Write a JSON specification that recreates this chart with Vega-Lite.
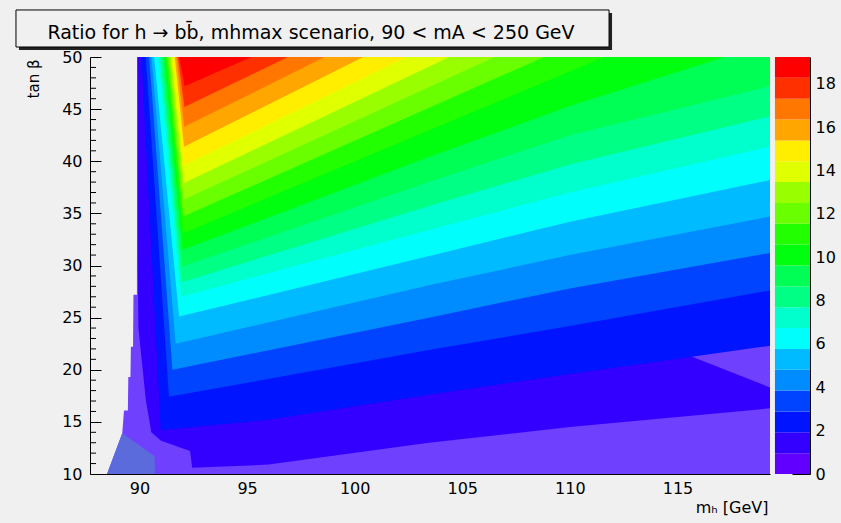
{
  "$schema": "https://vega.github.io/schema/vega-lite/v6.json",
  "width": 680,
  "height": 417,
  "autosize": {"type": "none"},
  "padding": {"left": 90, "top": 57, "right": 71, "bottom": 49},
  "background": "#f0f0f0",
  "config": {
    "view": {"stroke": null},
    "font": "DejaVu Sans",
    "axis": {"labelFont": "DejaVu Sans", "titleFont": "DejaVu Sans", "grid": false, "labelColor": "black", "titleColor": "black", "domainColor": "black", "tickColor": "black", "labelFontSize": 16, "titleFontWeight": "normal", "labelFlush": false, "labelOverlap": false, "zindex": 1}
  },
  "datasets": {
    "region0": [{"x":88.5,"hi":10.05},{"x":89.2,"hi":13.9},{"x":89.28,"hi":16.1},{"x":89.46,"hi":16.1},{"x":89.48,"hi":19.3},{"x":89.58,"hi":19.3},{"x":89.6,"hi":22.2},{"x":89.7,"hi":22.2},{"x":89.72,"hi":27.2},{"x":89.88,"hi":27.2},{"x":89.9,"hi":50},{"x":119.3,"hi":50}],
    "slate": [{"x":88.5,"hi":10.05},{"x":89.2,"hi":13.9},{"x":90.7,"hi":11.7},{"x":90.72,"hi":10.0}],
    "b1": [{"k":1,"x":89.9,"lo":50},{"k":1,"x":89.92,"lo":30},{"k":1,"x":89.95,"lo":24},{"k":1,"x":90.3,"lo":17},{"k":1,"x":90.55,"lo":14.0},{"k":1,"x":91.0,"lo":13.2},{"k":1,"x":92.35,"lo":12.2},{"k":1,"x":92.45,"lo":10.6},{"k":1,"x":96,"lo":10.9},{"k":1,"x":103.45,"lo":13.0},{"k":1,"x":110,"lo":14.5},{"k":1,"x":119.3,"lo":16.3}],
    "notch": [{"x":115.5,"lo":21.4},{"x":119.3,"lo":18.3}],
    "bands": [
      {"k":2,"x":90.09,"lo":50},{"k":2,"x":90.99,"lo":14.2},{"k":2,"x":96,"lo":15.2},{"k":2,"x":103.45,"lo":17.6},{"k":2,"x":110,"lo":19.6},{"k":2,"x":119.3,"lo":22.3},
      {"k":3,"x":90.29,"lo":50},{"k":3,"x":91.37,"lo":17.4},{"k":3,"x":103.45,"lo":21.9},{"k":3,"x":110,"lo":24.2},{"k":3,"x":119.3,"lo":27.6},
      {"k":4,"x":90.45,"lo":50},{"k":4,"x":91.53,"lo":20.0},{"k":4,"x":103.45,"lo":25.0},{"k":4,"x":110,"lo":27.8},{"k":4,"x":119.3,"lo":31.2},
      {"k":5,"x":90.56,"lo":50},{"k":5,"x":91.68,"lo":22.5},{"k":5,"x":103.45,"lo":28.1},{"k":5,"x":110,"lo":31.0},{"k":5,"x":119.3,"lo":34.7},
      {"k":6,"x":90.68,"lo":50},{"k":6,"x":91.84,"lo":25.1},{"k":6,"x":103.45,"lo":30.9},{"k":6,"x":110,"lo":34.2},{"k":6,"x":119.3,"lo":38.2},
      {"k":7,"x":90.87,"lo":50},{"k":7,"x":91.92,"lo":27.0},{"k":7,"x":103.45,"lo":33.4},{"k":7,"x":110,"lo":37.0},{"k":7,"x":119.3,"lo":41.4},
      {"k":8,"x":90.96,"lo":50},{"k":8,"x":91.95,"lo":28.4},{"k":8,"x":103.45,"lo":35.7},{"k":8,"x":110,"lo":39.7},{"k":8,"x":119.3,"lo":44.3},
      {"k":9,"x":91.05,"lo":50},{"k":9,"x":91.97,"lo":29.9},{"k":9,"x":103.45,"lo":38.0},{"k":9,"x":110,"lo":42.5},{"k":9,"x":119.3,"lo":47.2},
      {"k":10,"x":91.15,"lo":50},{"k":10,"x":92.0,"lo":31.5},{"k":10,"x":103.45,"lo":40.4},{"k":10,"x":110,"lo":45.3},{"k":10,"x":117.2,"lo":50},
      {"k":11,"x":91.22,"lo":50},{"k":11,"x":92.02,"lo":33.1},{"k":11,"x":111.6,"lo":50},
      {"k":12,"x":91.3,"lo":50},{"k":12,"x":92.03,"lo":34.7},{"k":12,"x":108.8,"lo":50},
      {"k":13,"x":91.38,"lo":50},{"k":13,"x":92.04,"lo":36.3},{"k":13,"x":106.5,"lo":50},
      {"k":14,"x":91.47,"lo":50},{"k":14,"x":92.05,"lo":37.9},{"k":14,"x":104.4,"lo":50},
      {"k":15,"x":91.56,"lo":50},{"k":15,"x":92.06,"lo":39.6},{"k":15,"x":102.4,"lo":50},
      {"k":16,"x":91.64,"lo":50},{"k":16,"x":92.07,"lo":41.4},{"k":16,"x":100.4,"lo":50},
      {"k":17,"x":91.71,"lo":50},{"k":17,"x":92.08,"lo":43.3},{"k":17,"x":98.6,"lo":50},
      {"k":18,"x":91.78,"lo":50},{"k":18,"x":92.09,"lo":45.2},{"k":18,"x":96.9,"lo":50},
      {"k":19,"x":91.84,"lo":50},{"k":19,"x":92.1,"lo":47.2},{"k":19,"x":95.2,"lo":50}
    ],
    "minor": [{"t":11},{"t":12},{"t":13},{"t":14},{"t":16},{"t":17},{"t":18},{"t":19},{"t":21},{"t":22},{"t":23},{"t":24},{"t":26},{"t":27},{"t":28},{"t":29},{"t":31},{"t":32},{"t":33},{"t":34},{"t":36},{"t":37},{"t":38},{"t":39},{"t":41},{"t":42},{"t":43},{"t":44},{"t":46},{"t":47},{"t":48},{"t":49}],
    "cbar": [{"k":0,"lo":0,"hi":0.96},{"k":1,"lo":0.96,"hi":1.92},{"k":2,"lo":1.92,"hi":2.88},{"k":3,"lo":2.88,"hi":3.85},{"k":4,"lo":3.85,"hi":4.81},{"k":5,"lo":4.81,"hi":5.77},{"k":6,"lo":5.77,"hi":6.73},{"k":7,"lo":6.73,"hi":7.69},{"k":8,"lo":7.69,"hi":8.65},{"k":9,"lo":8.65,"hi":9.62},{"k":10,"lo":9.62,"hi":10.58},{"k":11,"lo":10.58,"hi":11.54},{"k":12,"lo":11.54,"hi":12.5},{"k":13,"lo":12.5,"hi":13.46},{"k":14,"lo":13.46,"hi":14.42},{"k":15,"lo":14.42,"hi":15.38},{"k":16,"lo":15.38,"hi":16.35},{"k":17,"lo":16.35,"hi":17.31},{"k":18,"lo":17.31,"hi":18.27},{"k":19,"lo":18.27,"hi":19.23}]
  },
  "layer": [
    {
      "layer": [
        {
          "data": {"name": "bands"},
          "mark": {"type": "area", "orient": "vertical", "opacity": 0},
          "encoding": {
            "x": {"field": "x", "type": "quantitative", "scale": {"domain": [87.7, 119.3], "nice": false, "zero": false},
              "axis": {"values": [90,95,100,105,110,115], "ticks": false, "labelPadding": 6, "title": "m\u2095 [GeV]", "titleFontSize": 16, "titleAnchor": "end", "titleAlign": "right", "titleX": 678, "titleY": 38, "titleBaseline": "alphabetic"}},
            "y": {"field": "lo", "type": "quantitative", "stack": null, "scale": {"domain": [10, 50], "nice": false, "zero": false},
              "axis": {"values": [10,15,20,25,30,35,40,45,50], "tickSize": -11, "labelPadding": 19, "title": "tan \u03b2", "titleFontSize": 15, "titleAngle": 270, "titleAlign": "right", "titleBaseline": "middle", "titleX": -57, "titleY": 2}},
            "y2": {"datum": 50}
          }
        },
        {
          "data": {"name": "region0"},
          "mark": {"type": "area", "orient": "vertical", "color": "#7040ff"},
          "encoding": {
            "x": {"field": "x", "type": "quantitative"},
            "y": {"field": "hi", "type": "quantitative", "stack": null},
            "y2": {"datum": 10}
          }
        },
        {
          "data": {"name": "slate"},
          "mark": {"type": "area", "orient": "vertical", "color": "#5b6bdc"},
          "encoding": {
            "x": {"field": "x", "type": "quantitative"},
            "y": {"field": "hi", "type": "quantitative", "stack": null},
            "y2": {"datum": 10}
          }
        },
        {
          "data": {"name": "b1"},
          "mark": {"type": "area", "orient": "vertical"},
          "encoding": {
            "x": {"field": "x", "type": "quantitative"},
            "y": {"field": "lo", "type": "quantitative", "stack": null},
            "y2": {"datum": 50},
            "color": {"field": "k", "type": "ordinal", "legend": null,
              "scale": {"domain": [0,1,2,3,4,5,6,7,8,9,10,11,12,13,14,15,16,17,18,19], "range": ["#6200ff","#3300ff","#0014ff","#0044ff","#008bff","#00bbff","#00fffc","#00ffcc","#00ff85","#00ff55","#00ff0e","#22ff00","#69ff00","#99ff00","#e0ff00","#ffee00","#ffa700","#ff7700","#ff3000","#ff0000"]}}
          }
        },
        {
          "data": {"name": "notch"},
          "mark": {"type": "area", "orient": "vertical", "color": "#7040ff"},
          "encoding": {
            "x": {"field": "x", "type": "quantitative"},
            "y": {"field": "lo", "type": "quantitative", "stack": null},
            "y2": {"datum": 24}
          }
        },
        {
          "data": {"name": "bands"},
          "mark": {"type": "area", "orient": "vertical"},
          "encoding": {
            "x": {"field": "x", "type": "quantitative"},
            "y": {"field": "lo", "type": "quantitative", "stack": null},
            "y2": {"datum": 50},
            "color": {"field": "k", "type": "ordinal", "legend": null}
          }
        },
        {
          "data": {"name": "minor"},
          "mark": {"type": "rule", "color": "black", "strokeWidth": 1},
          "encoding": {
            "x": {"datum": 87.7, "type": "quantitative"},
            "x2": {"datum": 87.98},
            "y": {"field": "t", "type": "quantitative"}
          }
        },
        {
          "data": {"values": [{"id": 1}]},
          "mark": {"type": "rect", "color": "#222222"},
          "encoding": {
            "x": {"datum": 84.4, "type": "quantitative"},
            "x2": {"datum": 111.96},
            "y": {"datum": 54.22, "type": "quantitative"},
            "y2": {"datum": 50.67}
          }
        },
        {
          "data": {"values": [{"id": 1}]},
          "mark": {"type": "rect", "fill": "#f0f0f0", "stroke": "black", "strokeWidth": 1},
          "encoding": {
            "x": {"datum": 84.26, "type": "quantitative"},
            "x2": {"datum": 111.82},
            "y": {"datum": 54.51, "type": "quantitative"},
            "y2": {"datum": 50.96}
          }
        },
        {
          "data": {"values": [{"id": 1}]},
          "mark": {"type": "text", "text": "Ratio for h \u2192 bb\u0304, mhmax scenario, 90 < mA < 250 GeV", "font": "DejaVu Sans", "fontSize": 19, "color": "black", "align": "center", "baseline": "middle"},
          "encoding": {
            "x": {"datum": 97.97, "type": "quantitative"},
            "y": {"datum": 52.3, "type": "quantitative"}
          }
        }
      ]
    },
    {
      "data": {"name": "cbar"},
      "mark": {"type": "rect"},
      "encoding": {
        "x": {"datum": 119.53, "type": "quantitative"},
        "x2": {"datum": 121.16},
        "y": {"field": "lo", "type": "quantitative", "scale": {"domain": [0, 19.23], "nice": false, "zero": false},
          "axis": {"orient": "right", "offset": 40, "values": [0,2,4,6,8,10,12,14,16,18], "tickSize": -18, "labelPadding": 23, "title": null}},
        "y2": {"field": "hi"},
        "color": {"field": "k", "type": "ordinal", "legend": null}
      }
    }
  ],
  "resolve": {"scale": {"y": "independent"}, "axis": {"y": "independent"}}
}
